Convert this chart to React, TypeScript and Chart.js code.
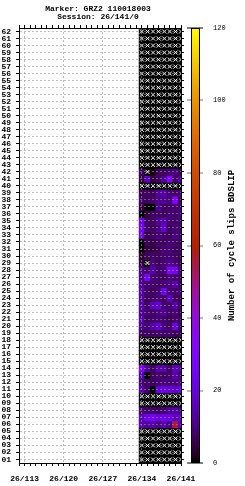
import React, { useEffect, useRef } from "react";
import { Chart, registerables } from "chart.js";

Chart.register(...registerables);

const N = null;

const TITLE_LINES = ["Marker: GRZ2 110018003", "Session: 26/141/0"];
const CB_LABEL = "Number of cycle slips BDSLIP";
const YEAR = "26";
const X_MIN = 112;
const X_MAX = 141;
const X_LABEL_DAYS = [113, 120, 127, 134, 141];
const CB_MIN = 0;
const CB_MAX = 120;
const CB_TICKS = [0, 20, 40, 60, 80, 100, 120];

const PRNS = [
  1, 2, 3, 4, 5, 6, 7, 8, 9, 10, 11, 12, 13, 14, 15, 16, 17, 18, 19, 20,
  21, 22, 23, 24, 25, 26, 27, 28, 29, 30, 31, 32, 33, 34, 35, 36, 37, 38, 39, 40,
  41, 42, 43, 44, 45, 46, 47, 48, 49, 50, 51, 52, 53, 54, 55, 56, 57, 58, 59, 60,
  61, 62,
];

const DAYS = [134, 135, 136, 137, 138, 139, 140, 141];

// values per PRN 01..62 (null = no data)
const doy134 = [N, N, N, N, N, 14, 16, 9, N, N, 14, 9, 14, 30, N, N, N, N, 7, 12, 14, 12, 14, 13, 14, 12, 12, 10, 5, 4, 0, 0, 20, 24, 22, 0, 5, 8, 7, N, 5, 7, N, N, N, N, N, N, N, N, N, N, N, N, N, N, N, N, N, N, N, N];
const doy135 = [N, N, N, N, N, 12, 24, 8, N, N, 8, 8, 0, 12, N, N, N, N, 8, 9, 7, 9, 7, 7, 8, 8, 26, 9, N, 7, 5, 7, 5, 8, 7, 5, 0, 7, 8, N, 16, N, N, N, N, N, N, N, N, N, N, N, N, N, N, N, N, N, N, N, N, N];
const doy136 = [N, N, N, N, N, 14, 26, 9, N, N, 0, 7, 7, 7, N, N, N, N, 7, 14, 8, 8, 16, 8, 7, 9, 9, 14, 10, 8, 5, 5, 8, 7, 8, 7, 0, 8, 7, N, 5, 1, N, N, N, N, N, N, N, N, N, N, N, N, N, N, N, N, N, N, N, N];
const doy137 = [N, N, N, N, N, 10, 22, 8, N, N, 20, 9, 9, 14, N, N, N, N, 9, 18, 9, 10, 18, 10, 9, 8, 8, 8, 7, 7, 7, 8, 9, 10, 12, 8, 12, 11, 12, N, 8, 7, N, N, N, N, N, N, N, N, N, N, N, N, N, N, N, N, N, N, N, N];
const doy138 = [N, N, N, N, N, 14, 24, 9, N, N, 22, 10, 7, 14, N, N, N, N, 8, 10, 8, 12, 8, 8, 24, 9, 7, 9, 9, 8, 9, 7, 8, 18, 14, 7, 7, 12, 14, N, 12, 7, N, N, N, N, N, N, N, N, N, N, N, N, N, N, N, N, N, N, N, N];
const doy139 = [N, N, N, N, N, 10, 22, 12, N, N, 20, 9, 9, 8, N, N, N, N, 9, 8, 7, 8, 9, 16, 9, 10, 10, 28, 12, 9, 9, 9, 7, 7, 9, 9, 8, 10, 9, N, 30, 8, N, N, N, N, N, N, N, N, N, N, N, N, N, N, N, N, N, N, N, N];
const doy140 = [N, N, N, N, N, 55, 16, 14, N, N, 18, 10, 14, 16, N, N, N, N, 7, 22, 8, 9, 14, 8, 8, 14, 8, 26, 9, 8, 7, 8, 10, 9, 8, 8, 9, 30, 8, N, 8, 10, N, N, N, N, N, N, N, N, N, N, N, N, N, N, N, N, N, N, N, N];
const doy141 = [N, N, N, N, N, 16, 18, 12, N, N, 22, 12, 10, 14, N, N, N, N, 8, 8, 9, 7, 8, 7, 10, 8, 9, 9, 8, 7, 8, 7, 9, 8, 9, 10, 9, 9, 10, N, 14, 7, N, N, N, N, N, N, N, N, N, N, N, N, N, N, N, N, N, N, N, N];

const COLUMNS = [doy134, doy135, doy136, doy137, doy138, doy139, doy140, doy141];

const FONT = "'Liberation Mono', 'DejaVu Sans Mono', monospace";

function palette(v: number): string {
  const x = Math.max(0, Math.min(1, (v - CB_MIN) / (CB_MAX - CB_MIN)));
  const r = Math.sqrt(x);
  const g = x * x * x;
  const b = Math.max(0, Math.sin(2 * Math.PI * x));
  return `rgb(${Math.round(r * 255)},${Math.round(g * 255)},${Math.round(b * 255)})`;
}

function zeroPad(s: any) {
  s.paddingTop = 0;
  s.paddingBottom = 0;
  s.paddingLeft = 0;
  s.paddingRight = 0;
}

const dayTicks = (s: any) => {
  const t: { value: number }[] = [];
  for (let d = X_MIN; d <= X_MAX; d++) t.push({ value: d });
  s.ticks = t;
};
const prnTicks = (s: any) => {
  s.ticks = PRNS.map((v) => ({ value: v }));
};

const decorPlugin = {
  id: "decor",
  afterDraw(chart: any) {
    const { ctx, chartArea } = chart;
    const cb = chart.scales.cb;
    const yTop = cb.getPixelForValue(CB_MAX);
    const yBot = cb.getPixelForValue(CB_MIN);
    const x0 = Math.round(cb.left) + 5;
    const w = 7;
    ctx.save();
    const grad = ctx.createLinearGradient(0, yBot, 0, yTop);
    for (let v = CB_MIN; v <= CB_MAX; v += 2) grad.addColorStop((v - CB_MIN) / (CB_MAX - CB_MIN), palette(v));
    ctx.fillStyle = grad;
    ctx.fillRect(x0, yTop, w, yBot - yTop);
    ctx.strokeStyle = "#000";
    ctx.lineWidth = 1;
    ctx.strokeRect(x0 - 0.5, Math.round(yTop) + 0.5, w + 1, Math.round(yBot - yTop) - 1);

    ctx.fillStyle = "#000";
    ctx.font = `bold 8px ${FONT}`;
    ctx.textAlign = "center";
    ctx.textBaseline = "middle";
    const cx = (chartArea.left + chartArea.right) / 2 - 2;
    ctx.fillText(TITLE_LINES[0], cx, 8.5);
    ctx.fillText(TITLE_LINES[1], cx, 17);

    ctx.font = `bold 9px ${FONT}`;
    ctx.translate(232, (chartArea.top + chartArea.bottom) / 2);
    ctx.rotate(-Math.PI / 2);
    ctx.fillText(CB_LABEL, 0, 0);
    ctx.restore();
  },
};

export default function App() {
  const ref = useRef<HTMLCanvasElement>(null);

  useEffect(() => {
    document.body.style.margin = "0";
    const cells: { x: number; y: [number, number] }[] = [];
    const colors: string[] = [];
    const missing: { x: number; y: number }[] = [];
    COLUMNS.forEach((col, ci) => {
      col.forEach((v, ri) => {
        const prn = PRNS[ri];
        const day = DAYS[ci];
        cells.push({ x: day, y: [prn - 0.5, prn + 0.5] });
        colors.push(v == null ? "#000" : palette(v));
        if (v == null) missing.push({ x: day, y: prn });
      });
    });

    const gridGrey = "rgba(150,150,150,0.6)";

    const chart = new Chart(ref.current as HTMLCanvasElement, {
      type: "bar",
      data: {
        datasets: [
          {
            type: "scatter",
            data: missing,
            pointStyle: "crossRot",
            pointRadius: 2.8,
            pointHoverRadius: 2.8,
            borderColor: "#ffffff",
            backgroundColor: "#ffffff",
            borderWidth: 1,
            clip: 0,
            order: 0,
          } as any,
          {
            type: "bar",
            data: cells as any,
            backgroundColor: colors,
            borderWidth: 0,
            categoryPercentage: 1,
            barPercentage: 1,
            grouped: false,
            clip: 0,
            order: 1,
          } as any,
        ],
      },
      plugins: [decorPlugin],
      options: {
        responsive: false,
        animation: false,
        events: [],
        layout: { padding: { top: 24, left: 0, right: 0, bottom: 0 } },
        plugins: {
          legend: { display: false },
          tooltip: { enabled: false },
          title: { display: false },
        },
        scales: {
          x: {
            type: "linear",
            position: "bottom",
            min: X_MIN,
            max: X_MAX,
            offset: false,
            afterBuildTicks: dayTicks,
            afterFit: (s: any) => {
              s.height = 23;
              zeroPad(s);
            },
            ticks: {
              autoSkip: false,
              maxRotation: 0,
              minRotation: 0,
              padding: 8,
              color: "#000",
              font: { family: FONT, size: 8, weight: "bold" },
              callback: (v: any) => (X_LABEL_DAYS.includes(Number(v)) ? `${YEAR}/${v}` : ""),
            },
            grid: {
              offset: false,
              z: 1,
              color: (c: any) => (c.tick && X_LABEL_DAYS.includes(c.tick.value) ? gridGrey : "rgba(0,0,0,0)"),
              lineWidth: 1,
              tickColor: "#000",
              tickLength: 3,
              tickWidth: 1,
            },
            border: { display: true, color: "#000", width: 1, dash: [2, 2], z: 1 },
          } as any,
          xTop: {
            type: "linear",
            position: "top",
            min: X_MIN,
            max: X_MAX,
            offset: false,
            afterBuildTicks: dayTicks,
            afterFit: (s: any) => {
              s.height = 4;
              zeroPad(s);
            },
            ticks: { display: false },
            grid: { drawOnChartArea: false, offset: false, tickColor: "#000", tickLength: 3, tickWidth: 1, z: 1 },
            border: { display: true, color: "#000", width: 1, z: 1 },
          } as any,
          y: {
            type: "linear",
            position: "left",
            min: 0.5,
            max: 62.5,
            afterBuildTicks: prnTicks,
            afterFit: (s: any) => {
              s.width = 19;
              zeroPad(s);
            },
            ticks: {
              autoSkip: false,
              padding: 5,
              color: "#000",
              font: { family: FONT, size: 8, weight: "bold" },
              callback: (v: any) => String(v).padStart(2, "0"),
            },
            grid: { z: 1, color: gridGrey, lineWidth: 1, tickColor: "#000", tickWidth: 1, tickLength: 3 },
            border: { display: true, color: "#000", width: 1, dash: [2, 2], z: 1 },
          } as any,
          yRight: {
            type: "linear",
            position: "right",
            weight: 0,
            min: 0.5,
            max: 62.5,
            afterBuildTicks: prnTicks,
            afterFit: (s: any) => {
              s.width = 6;
              zeroPad(s);
            },
            ticks: { display: false },
            grid: { drawOnChartArea: false, tickColor: "#000", tickLength: 3, tickWidth: 1, z: 1 },
            border: { display: true, color: "#000", width: 1, z: 1 },
          } as any,
          cb: {
            type: "linear",
            position: "right",
            weight: 1,
            min: CB_MIN,
            max: CB_MAX,
            afterBuildTicks: (s: any) => {
              s.ticks = CB_TICKS.map((v) => ({ value: v }));
            },
            afterFit: (s: any) => {
              s.width = 58;
              zeroPad(s);
            },
            ticks: { autoSkip: false, padding: 10, color: "#000", font: { family: FONT, size: 7 } },
            grid: {
              drawOnChartArea: false,
              lineWidth: 0,
              tickLength: 16,
              tickWidth: 1,
              tickColor: (c: any) => (c.tick && (c.tick.value === CB_MIN || c.tick.value === CB_MAX) ? "#000" : "#777"),
            },
            border: { display: false },
          } as any,
        },
      },
    });
    return () => chart.destroy();
  }, []);

  return (
    <div style={{ width: 245, height: 486 }}>
      <canvas ref={ref} width={245} height={486} style={{ display: "block", width: 245, height: 486 }} />
    </div>
  );
}
